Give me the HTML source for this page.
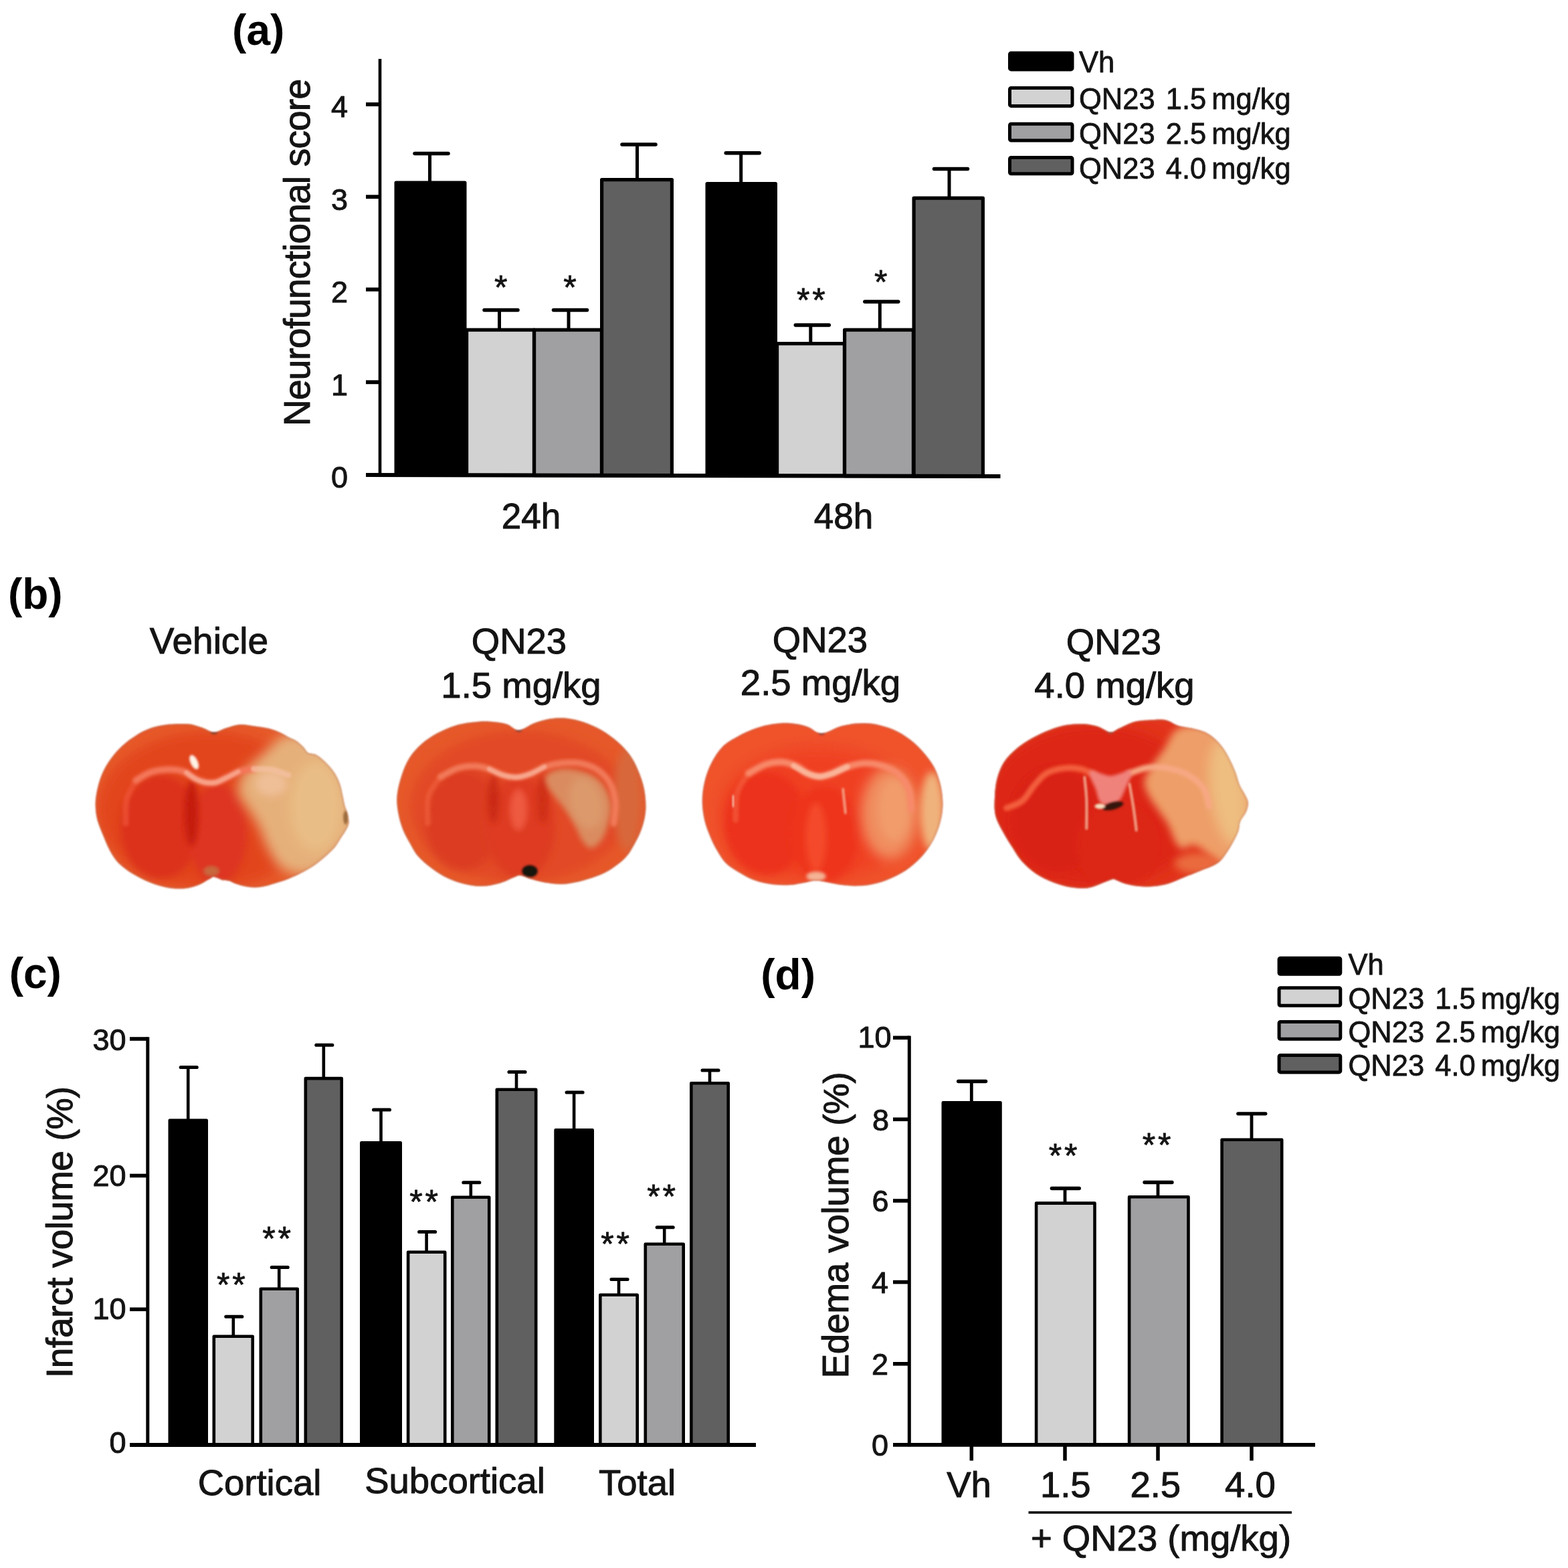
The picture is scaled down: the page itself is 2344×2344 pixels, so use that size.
<!DOCTYPE html>
<html lang="en">
<head>
<meta charset="utf-8">
<title>QN23 neuroprotection figure</title>
<style>
html, body { margin: 0; padding: 0; background: #ffffff; }
body { width: 2344px; height: 2344px; overflow: hidden; font-family: 'Liberation Sans', sans-serif; }
svg { display: block; font-family: 'Liberation Sans', sans-serif; }
</style>
</head>
<body>
<svg width="2344" height="2344" viewBox="0 0 2344 2344">
<rect x="0" y="0" width="2344" height="2344" fill="#ffffff"/>
<defs>
<filter id="bl1" x="-50%" y="-50%" width="200%" height="200%"><feGaussianBlur stdDeviation="1.3"/></filter>
<filter id="bl2" x="-50%" y="-50%" width="200%" height="200%"><feGaussianBlur stdDeviation="1.2"/></filter>
<filter id="bl3" x="-50%" y="-50%" width="200%" height="200%"><feGaussianBlur stdDeviation="2.0"/></filter>
<filter id="bl6" x="-50%" y="-50%" width="200%" height="200%"><feGaussianBlur stdDeviation="4.0"/></filter>
<filter id="bl8" x="-50%" y="-50%" width="200%" height="200%"><feGaussianBlur stdDeviation="6.0"/></filter>
<filter id="bl10" x="-50%" y="-50%" width="200%" height="200%"><feGaussianBlur stdDeviation="9.0"/></filter>
<clipPath id="bc1"><path d="M320.0 1094.5 C313.9 1094.4 308.3 1089.6 301.9 1087.5 C295.4 1085.5 289.8 1083.1 281.2 1082.3 C272.5 1081.6 259.6 1082.0 250.1 1083.1 C240.6 1084.2 232.0 1086.1 224.2 1088.8 C216.5 1091.5 210.4 1094.9 203.5 1099.2 C196.6 1103.5 189.3 1108.7 182.8 1114.7 C176.3 1120.7 169.9 1128.1 164.7 1135.4 C159.5 1142.7 155.1 1150.5 151.8 1158.7 C148.4 1166.9 146.0 1176.8 144.5 1184.6 C143.0 1192.3 142.5 1198.4 142.7 1205.3 C142.9 1212.2 143.6 1218.7 145.5 1226.0 C147.5 1233.3 151.2 1241.5 154.3 1249.3 C157.5 1257.0 160.8 1265.7 164.7 1272.6 C168.6 1279.5 172.0 1285.1 177.6 1290.7 C183.2 1296.3 190.6 1301.5 198.3 1306.2 C206.1 1311.0 215.6 1315.7 224.2 1319.2 C232.9 1322.6 241.5 1325.4 250.1 1326.9 C258.7 1328.4 268.2 1328.9 276.0 1328.2 C283.7 1327.6 290.6 1325.3 296.7 1323.0 C302.7 1320.7 308.3 1316.5 312.2 1314.5 C316.1 1312.5 316.5 1310.7 320.0 1310.9 C323.4 1311.0 329.3 1314.6 332.9 1315.5 C336.5 1316.5 338.6 1315.7 341.7 1316.6 C344.9 1317.5 347.7 1319.5 351.8 1321.0 C355.9 1322.4 361.5 1324.2 366.3 1325.1 C371.1 1326.1 376.0 1326.7 380.8 1326.7 C385.6 1326.7 390.5 1326.1 395.3 1325.1 C400.1 1324.2 405.0 1322.4 409.8 1321.0 C414.6 1319.5 419.4 1318.3 424.3 1316.6 C429.1 1314.8 433.9 1312.8 438.8 1310.6 C443.6 1308.4 448.7 1305.8 453.3 1303.4 C457.8 1300.9 462.1 1298.7 466.2 1296.1 C470.3 1293.5 474.0 1290.7 477.8 1287.6 C481.7 1284.5 485.6 1281.1 489.5 1277.5 C493.4 1273.9 497.8 1270.0 501.1 1265.8 C504.5 1261.7 507.0 1256.7 509.7 1252.6 C512.3 1248.5 515.0 1244.9 516.9 1241.3 C518.9 1237.6 520.9 1235.0 521.3 1230.9 C521.8 1226.8 520.7 1220.7 519.8 1216.4 C518.8 1212.1 516.8 1209.3 515.6 1205.0 C514.4 1200.7 513.7 1195.9 512.5 1190.5 C511.3 1185.2 510.3 1178.5 508.4 1172.9 C506.5 1167.4 503.8 1161.7 501.1 1157.1 C498.5 1152.6 495.5 1149.1 492.3 1145.5 C489.2 1141.9 485.6 1138.3 482.2 1135.4 C478.9 1132.5 475.8 1129.8 472.2 1128.2 C468.5 1126.5 463.7 1127.3 460.5 1125.3 C457.4 1123.4 456.2 1119.4 453.3 1116.5 C450.4 1113.6 446.8 1110.1 443.2 1107.7 C439.5 1105.3 435.4 1104.0 431.5 1102.0 C427.6 1100.0 424.7 1097.7 419.9 1095.5 C415.0 1093.4 409.0 1090.8 402.5 1089.1 C396.0 1087.4 388.0 1086.4 380.8 1085.5 C373.6 1084.5 366.2 1082.7 359.1 1083.1 C351.9 1083.6 344.6 1086.4 338.1 1088.3 C331.6 1090.2 326.0 1094.6 320.0 1094.5 Z"/></clipPath>
<clipPath id="bc2"><path d="M775.7 1091.4 C768.8 1091.6 764.5 1084.5 757.0 1082.3 C749.6 1080.2 739.8 1078.9 731.2 1078.5 C722.5 1078.0 713.9 1078.7 705.3 1079.8 C696.7 1080.8 688.0 1082.2 679.4 1084.9 C670.8 1087.7 661.7 1091.5 653.5 1096.1 C645.3 1100.6 637.1 1106.0 630.2 1112.1 C623.3 1118.2 617.1 1125.1 612.1 1132.8 C607.2 1140.6 603.6 1149.2 600.5 1158.7 C597.4 1168.2 594.3 1180.3 593.5 1189.8 C592.6 1199.2 593.9 1207.4 595.3 1215.6 C596.7 1223.8 599.0 1231.6 601.8 1238.9 C604.6 1246.3 608.2 1252.7 612.1 1259.6 C616.0 1266.5 619.4 1273.9 625.1 1280.3 C630.7 1286.8 638.4 1293.1 645.8 1298.4 C653.1 1303.8 660.9 1308.8 669.0 1312.7 C677.2 1316.6 686.3 1319.7 694.9 1321.7 C703.6 1323.8 712.2 1325.1 720.8 1324.8 C729.4 1324.6 738.9 1322.6 746.7 1320.4 C754.5 1318.3 762.2 1313.8 767.4 1311.9 C772.6 1310.0 773.4 1308.5 777.7 1308.8 C782.1 1309.1 787.2 1312.2 793.3 1314.0 C799.3 1315.7 806.2 1317.9 814.0 1319.2 C821.7 1320.4 831.2 1322.0 839.9 1321.7 C848.5 1321.5 857.1 1319.8 865.7 1317.9 C874.4 1315.9 883.4 1313.3 891.6 1310.1 C899.8 1306.9 907.6 1303.2 914.9 1298.4 C922.2 1293.7 929.8 1288.1 935.6 1281.6 C941.4 1275.2 945.7 1267.2 949.8 1259.6 C953.9 1252.1 957.6 1244.5 960.2 1236.3 C962.8 1228.1 964.9 1219.9 965.4 1210.5 C965.8 1201.0 965.0 1189.3 963.0 1179.4 C961.1 1169.5 957.4 1159.6 953.7 1150.9 C950.0 1142.3 946.0 1134.8 940.8 1127.6 C935.6 1120.5 929.6 1114.3 922.7 1108.2 C915.8 1102.2 907.6 1096.2 899.4 1091.4 C891.2 1086.7 882.1 1082.7 873.5 1079.8 C864.9 1076.8 856.2 1074.7 847.6 1073.8 C839.0 1072.9 829.9 1073.4 821.7 1074.6 C813.5 1075.8 806.1 1078.3 798.4 1081.1 C790.8 1083.9 782.6 1091.2 775.7 1091.4 Z"/></clipPath>
<clipPath id="bc3"><path d="M1228.3 1096.1 C1219.6 1096.3 1214.9 1088.7 1207.0 1086.2 C1199.2 1083.7 1189.8 1081.7 1181.2 1081.1 C1172.5 1080.4 1163.9 1081.1 1155.3 1082.3 C1146.7 1083.6 1138.0 1085.8 1129.4 1088.8 C1120.8 1091.8 1111.7 1095.9 1103.5 1100.5 C1095.3 1105.0 1086.9 1109.3 1080.2 1116.0 C1073.5 1122.7 1067.9 1131.7 1063.4 1140.6 C1058.9 1149.4 1055.3 1159.6 1053.1 1169.0 C1050.8 1178.5 1049.7 1188.0 1049.7 1197.5 C1049.7 1207.0 1051.0 1216.9 1053.1 1226.0 C1055.1 1235.0 1058.9 1244.1 1062.1 1251.9 C1065.3 1259.6 1068.6 1266.1 1072.5 1272.6 C1076.3 1279.0 1079.8 1285.3 1085.4 1290.7 C1091.0 1296.1 1098.8 1300.6 1106.1 1304.9 C1113.4 1309.2 1121.2 1313.7 1129.4 1316.6 C1137.6 1319.5 1146.7 1321.2 1155.3 1322.3 C1163.9 1323.3 1173.0 1323.6 1181.2 1323.0 C1189.4 1322.5 1198.0 1320.2 1204.5 1319.2 C1210.9 1318.1 1214.4 1316.6 1220.0 1316.6 C1225.6 1316.6 1231.6 1318.1 1238.1 1319.2 C1244.6 1320.2 1251.0 1322.2 1258.8 1323.0 C1266.6 1323.9 1276.1 1324.8 1284.7 1324.3 C1293.3 1323.9 1301.9 1322.7 1310.6 1320.4 C1319.2 1318.2 1328.2 1314.8 1336.4 1310.9 C1344.6 1307.0 1352.4 1302.7 1359.7 1297.2 C1367.1 1291.6 1374.4 1284.9 1380.4 1277.7 C1386.5 1270.6 1391.7 1262.6 1396.0 1254.5 C1400.2 1246.3 1403.6 1237.2 1405.8 1228.6 C1408.0 1219.9 1409.3 1211.7 1409.4 1202.7 C1409.5 1193.6 1408.3 1183.3 1406.3 1174.2 C1404.3 1165.2 1401.1 1156.1 1397.3 1148.3 C1393.4 1140.6 1388.4 1134.2 1383.0 1127.6 C1377.6 1121.1 1371.8 1114.7 1364.9 1109.0 C1358.0 1103.3 1349.8 1097.6 1341.6 1093.5 C1333.4 1089.3 1324.4 1086.2 1315.7 1084.2 C1307.1 1082.1 1299.3 1080.9 1289.9 1081.1 C1280.4 1081.2 1269.1 1082.4 1258.8 1084.9 C1248.5 1087.4 1236.9 1095.9 1228.3 1096.1 Z"/></clipPath>
<clipPath id="bc4"><path d="M1660.0 1094.5 C1654.8 1094.1 1648.3 1088.3 1641.9 1086.2 C1635.4 1084.2 1628.9 1082.8 1621.2 1082.3 C1613.4 1081.9 1603.9 1082.2 1595.3 1083.6 C1586.7 1085.1 1578.0 1087.7 1569.4 1090.9 C1560.8 1094.1 1551.7 1098.4 1543.5 1103.1 C1535.3 1107.7 1527.3 1112.5 1520.2 1118.6 C1513.1 1124.6 1505.8 1131.7 1500.8 1139.3 C1495.9 1146.8 1492.8 1155.5 1490.5 1163.9 C1488.2 1172.3 1487.5 1180.7 1487.1 1189.8 C1486.7 1198.8 1485.8 1209.2 1487.9 1218.2 C1489.9 1227.3 1495.2 1235.9 1499.5 1244.1 C1503.8 1252.3 1509.0 1260.1 1513.8 1267.4 C1518.5 1274.7 1522.2 1281.6 1528.0 1288.1 C1533.8 1294.6 1540.9 1301.0 1548.7 1306.2 C1556.5 1311.4 1565.9 1315.8 1574.6 1319.2 C1583.2 1322.5 1591.8 1325.0 1600.5 1326.4 C1609.1 1327.8 1618.6 1328.4 1626.3 1327.4 C1634.1 1326.4 1641.0 1322.6 1647.0 1320.4 C1653.1 1318.3 1659.2 1315.4 1662.6 1314.5 C1665.9 1313.6 1664.0 1313.9 1667.2 1315.0 C1670.4 1316.1 1675.7 1319.3 1681.7 1321.0 C1687.8 1322.6 1696.2 1324.4 1703.5 1325.1 C1710.7 1325.8 1718.0 1325.8 1725.2 1325.1 C1732.4 1324.4 1739.7 1323.1 1746.9 1321.0 C1754.2 1318.8 1762.6 1314.6 1768.7 1312.2 C1774.7 1309.7 1778.3 1308.4 1783.2 1306.5 C1788.0 1304.5 1792.8 1302.5 1797.7 1300.5 C1802.5 1298.6 1807.8 1297.0 1812.2 1294.8 C1816.5 1292.7 1820.2 1291.0 1823.8 1287.6 C1827.4 1284.2 1830.7 1279.0 1833.9 1274.4 C1837.0 1269.8 1839.8 1265.2 1842.7 1259.9 C1845.6 1254.6 1849.3 1247.9 1851.2 1242.5 C1853.1 1237.2 1852.1 1232.9 1854.1 1228.1 C1856.0 1223.2 1860.9 1218.4 1862.9 1213.6 C1864.8 1208.7 1866.2 1203.6 1865.7 1199.1 C1865.3 1194.5 1862.2 1190.5 1860.0 1186.1 C1857.9 1181.8 1855.0 1178.2 1852.8 1172.9 C1850.6 1167.6 1849.2 1160.6 1846.8 1154.3 C1844.4 1148.0 1841.4 1141.4 1838.3 1135.4 C1835.2 1129.4 1831.8 1123.2 1828.2 1118.1 C1824.6 1113.0 1820.9 1108.7 1816.6 1104.9 C1812.2 1101.0 1807.6 1097.4 1802.1 1094.8 C1796.5 1092.1 1789.9 1090.8 1783.2 1089.1 C1776.4 1087.4 1767.9 1086.7 1761.4 1084.7 C1754.9 1082.6 1750.1 1078.1 1744.1 1076.7 C1738.1 1075.2 1733.2 1075.5 1725.2 1075.9 C1717.2 1076.2 1704.9 1076.6 1696.2 1078.7 C1687.5 1080.9 1679.0 1086.2 1672.9 1088.8 C1666.9 1091.5 1665.2 1094.9 1660.0 1094.5 Z"/></clipPath>
</defs>
<text x="386.2" y="66.5" font-size="64" text-anchor="middle" font-weight="bold" fill="#000">(a)</text>
<line x1="568.0" y1="88.0" x2="568.0" y2="712.5" stroke="#000" stroke-width="4.6" stroke-linecap="butt"/>
<text x="520.0" y="729.1" font-size="45" text-anchor="end" font-weight="normal" fill="#141414" stroke="#141414" stroke-width="1.0" stroke-linejoin="round" >0</text>
<line x1="547.0" y1="571.3" x2="568.0" y2="571.3" stroke="#000" stroke-width="5.8" stroke-linecap="butt"/>
<text x="520.0" y="591.1" font-size="45" text-anchor="end" font-weight="normal" fill="#141414" stroke="#141414" stroke-width="1.0" stroke-linejoin="round" >1</text>
<line x1="547.0" y1="432.7" x2="568.0" y2="432.7" stroke="#000" stroke-width="5.8" stroke-linecap="butt"/>
<text x="520.0" y="452.4" font-size="45" text-anchor="end" font-weight="normal" fill="#141414" stroke="#141414" stroke-width="1.0" stroke-linejoin="round" >2</text>
<line x1="547.0" y1="294.2" x2="568.0" y2="294.2" stroke="#000" stroke-width="5.8" stroke-linecap="butt"/>
<text x="520.0" y="313.6" font-size="45" text-anchor="end" font-weight="normal" fill="#141414" stroke="#141414" stroke-width="1.0" stroke-linejoin="round" >3</text>
<line x1="547.0" y1="156.0" x2="568.0" y2="156.0" stroke="#000" stroke-width="5.8" stroke-linecap="butt"/>
<text x="520.0" y="174.7" font-size="45" text-anchor="end" font-weight="normal" fill="#141414" stroke="#141414" stroke-width="1.0" stroke-linejoin="round" >4</text>
<text transform="translate(462.5 377.5) rotate(-90)" font-size="55" text-anchor="middle" fill="#141414" stroke="#141414" stroke-width="1.0" stroke-linejoin="round" textLength="519" lengthAdjust="spacing">Neurofunctional score</text>
<line x1="642.5" y1="229.5" x2="642.5" y2="272.5" stroke="#000" stroke-width="5.0" stroke-linecap="butt"/>
<line x1="620.0" y1="229.5" x2="670.0" y2="229.5" stroke="#000" stroke-width="5.5" stroke-linecap="round"/>
<line x1="746.5" y1="463.5" x2="746.5" y2="492.5" stroke="#000" stroke-width="5.0" stroke-linecap="butt"/>
<line x1="724.0" y1="463.5" x2="774.0" y2="463.5" stroke="#000" stroke-width="5.5" stroke-linecap="round"/>
<line x1="850.0" y1="463.5" x2="850.0" y2="492.5" stroke="#000" stroke-width="5.0" stroke-linecap="butt"/>
<line x1="827.5" y1="463.5" x2="877.5" y2="463.5" stroke="#000" stroke-width="5.5" stroke-linecap="round"/>
<line x1="952.5" y1="216.0" x2="952.5" y2="268.0" stroke="#000" stroke-width="5.0" stroke-linecap="butt"/>
<line x1="930.0" y1="216.0" x2="980.0" y2="216.0" stroke="#000" stroke-width="5.5" stroke-linecap="round"/>
<line x1="1107.7" y1="228.7" x2="1107.7" y2="274.0" stroke="#000" stroke-width="5.0" stroke-linecap="butt"/>
<line x1="1085.2" y1="228.7" x2="1135.2" y2="228.7" stroke="#000" stroke-width="5.5" stroke-linecap="round"/>
<line x1="1211.8" y1="486.0" x2="1211.8" y2="513.0" stroke="#000" stroke-width="5.0" stroke-linecap="butt"/>
<line x1="1189.3" y1="486.0" x2="1239.3" y2="486.0" stroke="#000" stroke-width="5.5" stroke-linecap="round"/>
<line x1="1315.3" y1="451.0" x2="1315.3" y2="492.5" stroke="#000" stroke-width="5.0" stroke-linecap="butt"/>
<line x1="1292.8" y1="451.0" x2="1342.8" y2="451.0" stroke="#000" stroke-width="5.5" stroke-linecap="round"/>
<line x1="1419.0" y1="252.5" x2="1419.0" y2="295.5" stroke="#000" stroke-width="5.0" stroke-linecap="butt"/>
<line x1="1396.5" y1="252.5" x2="1446.5" y2="252.5" stroke="#000" stroke-width="5.5" stroke-linecap="round"/>
<rect x="592.1" y="273.1" width="102.8" height="437.1" fill="#000000" stroke="#000" stroke-width="5.2" stroke-linejoin="round"/>
<rect x="697.6" y="493.1" width="100.8" height="217.3" fill="#d2d2d2" stroke="#000" stroke-width="5.2" stroke-linejoin="round"/>
<rect x="798.6" y="493.1" width="100.8" height="217.5" fill="#a0a0a3" stroke="#000" stroke-width="5.2" stroke-linejoin="round"/>
<rect x="899.6" y="268.6" width="104.8" height="442.3" fill="#606060" stroke="#000" stroke-width="5.2" stroke-linejoin="round"/>
<rect x="1057.1" y="274.6" width="102.3" height="436.6" fill="#000000" stroke="#000" stroke-width="5.2" stroke-linejoin="round"/>
<rect x="1161.6" y="513.6" width="100.8" height="197.8" fill="#d2d2d2" stroke="#000" stroke-width="5.2" stroke-linejoin="round"/>
<rect x="1262.6" y="493.1" width="102.8" height="218.5" fill="#a0a0a3" stroke="#000" stroke-width="5.2" stroke-linejoin="round"/>
<rect x="1366.1" y="296.1" width="103.3" height="415.7" fill="#606060" stroke="#000" stroke-width="5.2" stroke-linejoin="round"/>
<line x1="547.0" y1="710.0" x2="1495.5" y2="712.0" stroke="#000" stroke-width="6"/>
<text x="748.8" y="447.4" font-size="50" text-anchor="middle" font-weight="normal" fill="#141414" stroke="#141414" stroke-width="0.8" stroke-linejoin="round" >*</text>
<text x="852.0" y="447.4" font-size="50" text-anchor="middle" font-weight="normal" fill="#141414" stroke="#141414" stroke-width="0.8" stroke-linejoin="round" >*</text>
<text x="1214.2" y="466.0" font-size="50" text-anchor="middle" font-weight="normal" fill="#141414" stroke="#141414" stroke-width="0.8" stroke-linejoin="round" letter-spacing="3.8">**</text>
<text x="1316.7" y="438.6" font-size="50" text-anchor="middle" font-weight="normal" fill="#141414" stroke="#141414" stroke-width="0.8" stroke-linejoin="round" >*</text>
<text x="794.0" y="789.5" font-size="53" text-anchor="middle" font-weight="normal" fill="#141414" stroke="#141414" stroke-width="1.0" stroke-linejoin="round" >24h</text>
<text x="1261.0" y="789.5" font-size="53" text-anchor="middle" font-weight="normal" fill="#141414" stroke="#141414" stroke-width="1.0" stroke-linejoin="round" >48h</text>
<rect x="1509.5" y="79.2" width="93.5" height="24.7" rx="2" fill="#000000" stroke="#000" stroke-width="5.0" stroke-linejoin="round"/>
<text x="1613.0" y="108.2" font-size="43.5" text-anchor="start" font-weight="normal" fill="#141414" stroke="#141414" stroke-width="0.8" stroke-linejoin="round" >Vh</text>
<rect x="1509.5" y="131.4" width="93.5" height="27.0" rx="2" fill="#d2d2d2" stroke="#000" stroke-width="5.0" stroke-linejoin="round"/>
<text x="1613.0" y="162.6" font-size="43.5" text-anchor="start" font-weight="normal" fill="#141414" stroke="#141414" stroke-width="0.8" stroke-linejoin="round" >QN23 <tspan dx="4">1.5</tspan> <tspan dx="-4">mg/kg</tspan></text>
<rect x="1509.5" y="185.3" width="93.5" height="24.7" rx="2" fill="#a0a0a3" stroke="#000" stroke-width="5.0" stroke-linejoin="round"/>
<text x="1613.0" y="214.9" font-size="43.5" text-anchor="start" font-weight="normal" fill="#141414" stroke="#141414" stroke-width="0.8" stroke-linejoin="round" >QN23 <tspan dx="4">2.5</tspan> <tspan dx="-4">mg/kg</tspan></text>
<rect x="1509.5" y="235.5" width="93.5" height="24.3" rx="2" fill="#606060" stroke="#000" stroke-width="5.0" stroke-linejoin="round"/>
<text x="1613.0" y="266.6" font-size="43.5" text-anchor="start" font-weight="normal" fill="#141414" stroke="#141414" stroke-width="0.8" stroke-linejoin="round" >QN23 <tspan dx="4">4.0</tspan> <tspan dx="-4">mg/kg</tspan></text>
<text x="52.8" y="909.5" font-size="64" text-anchor="middle" font-weight="bold" fill="#000">(b)</text>
<text x="312.5" y="976.5" font-size="55" text-anchor="middle" font-weight="normal" fill="#141414" stroke="#141414" stroke-width="1.0" stroke-linejoin="round" >Vehicle</text>
<text x="776.0" y="977.0" font-size="54.5" text-anchor="middle" font-weight="normal" fill="#141414" stroke="#141414" stroke-width="1.0" stroke-linejoin="round" >QN23</text>
<text x="779.0" y="1042.5" font-size="54.5" text-anchor="middle" font-weight="normal" fill="#141414" stroke="#141414" stroke-width="1.0" stroke-linejoin="round" >1.5 mg/kg</text>
<text x="1226.0" y="974.5" font-size="54.5" text-anchor="middle" font-weight="normal" fill="#141414" stroke="#141414" stroke-width="1.0" stroke-linejoin="round" >QN23</text>
<text x="1226.5" y="1038.5" font-size="54.5" text-anchor="middle" font-weight="normal" fill="#141414" stroke="#141414" stroke-width="1.0" stroke-linejoin="round" >2.5 mg/kg</text>
<text x="1665.0" y="977.5" font-size="54.5" text-anchor="middle" font-weight="normal" fill="#141414" stroke="#141414" stroke-width="1.0" stroke-linejoin="round" >QN23</text>
<text x="1666.0" y="1042.5" font-size="54.5" text-anchor="middle" font-weight="normal" fill="#141414" stroke="#141414" stroke-width="1.0" stroke-linejoin="round" >4.0 mg/kg</text>
<g filter="url(#bl1)"><g clip-path="url(#bc1)">
<rect x="132.7" y="1072.3" width="398.6" height="265.9" fill="#e6592a"/>
<ellipse cx="312.2" cy="1210.5" rx="165.6" ry="116.5" fill="#e2441f" opacity="1.0" filter="url(#bl10)" transform="rotate(0 312.2 1210.5)"/>
<ellipse cx="239.8" cy="1236.3" rx="59.5" ry="77.6" fill="#dc301a" opacity="1.0" filter="url(#bl8)" transform="rotate(0 239.8 1236.3)"/>
<ellipse cx="325.2" cy="1246.7" rx="44.0" ry="75.1" fill="#de3420" opacity="1.0" filter="url(#bl8)" transform="rotate(0 325.2 1246.7)"/>
<ellipse cx="286.3" cy="1215.6" rx="10.4" ry="49.2" fill="#c41c0e" opacity="1.0" filter="url(#bl6)" transform="rotate(0 286.3 1215.6)"/>
<path d="M426.1 1099.2 C414.4 1103.5 402.8 1118.2 392.4 1127.6 C382.1 1137.1 370.0 1146.6 364.0 1156.1 C357.9 1165.6 354.9 1175.5 356.2 1184.6 C357.5 1193.6 366.6 1201.8 371.7 1210.5 C376.9 1219.1 382.5 1226.8 387.3 1236.3 C392.0 1245.8 394.2 1256.8 400.2 1267.4 C406.2 1278.0 412.3 1293.3 423.5 1299.7 C434.7 1306.2 454.1 1309.9 467.5 1306.2 C480.9 1302.5 493.4 1286.8 503.7 1277.7 C514.1 1268.7 523.6 1261.4 529.6 1251.9 C535.6 1242.4 539.1 1232.0 540.0 1220.8 C540.8 1209.6 538.2 1196.7 534.8 1184.6 C531.3 1172.5 526.2 1159.1 519.3 1148.3 C512.4 1137.6 502.9 1127.6 493.4 1119.9 C483.9 1112.1 473.5 1105.2 462.3 1101.8 C451.1 1098.3 437.7 1094.9 426.1 1099.2 Z" fill="#e6b07a" opacity="1.0" filter="url(#bl10)"/>
<ellipse cx="472.7" cy="1205.3" rx="38.8" ry="67.3" fill="#e9be86" opacity="1.0" filter="url(#bl10)" transform="rotate(0 472.7 1205.3)"/>
<ellipse cx="405.4" cy="1171.6" rx="23.3" ry="18.1" fill="#efbf98" opacity="1.0" filter="url(#bl8)" transform="rotate(0 405.4 1171.6)"/>
<path d="M188.0 1231.2 C188.2 1225.1 186.7 1205.7 189.3 1194.9 C191.9 1184.1 201.1 1171.2 203.5 1166.5" fill="none" stroke="#f0573a" stroke-width="8.8" stroke-linecap="round" stroke-linejoin="round" opacity="0.7" filter="url(#bl3)"/>
<path d="M203.5 1166.5 C207.0 1164.5 216.5 1157.5 224.2 1154.8 C232.0 1152.1 241.9 1150.7 250.1 1150.4 C258.3 1150.1 266.5 1150.8 273.4 1153.0 C280.3 1155.2 285.9 1161.1 291.5 1163.9 C297.1 1166.6 301.9 1168.6 307.0 1169.6 C312.2 1170.5 317.4 1170.7 322.6 1169.6 C327.7 1168.4 332.1 1165.6 338.1 1162.8 C344.1 1160.1 351.9 1155.2 358.8 1153.0 C365.7 1150.8 376.1 1150.2 379.5 1149.6" fill="none" stroke="#f4775a" stroke-width="9.8" stroke-linecap="round" stroke-linejoin="round" opacity="1.0" filter="url(#bl3)"/>
<path d="M278.6 1154.8 C280.7 1156.3 286.8 1161.4 291.5 1163.9 C296.3 1166.3 301.9 1168.6 307.0 1169.6 C312.2 1170.5 317.4 1170.7 322.6 1169.6 C327.7 1168.4 332.5 1165.5 338.1 1162.8 C343.7 1160.2 353.2 1155.1 356.2 1153.5" fill="none" stroke="#f8a288" stroke-width="6.7" stroke-linecap="round" stroke-linejoin="round" opacity="1.0" filter="url(#bl2)"/>
<path d="M379.5 1149.6 C383.8 1149.8 396.8 1148.9 405.4 1150.4 C414.0 1151.9 426.9 1157.3 431.3 1158.7" fill="none" stroke="#f4c0a0" stroke-width="8.8" stroke-linecap="round" stroke-linejoin="round" opacity="0.8" filter="url(#bl2)"/>
<ellipse cx="290.2" cy="1139.3" rx="5.2" ry="11.4" fill="#fff3e6" opacity="1.0" filter="url(#bl2)" transform="rotate(-25 290.2 1139.3)"/>
<ellipse cx="320.0" cy="1093.5" rx="5.2" ry="4.1" fill="#6e3a2c" opacity="1.0" filter="url(#bl2)" transform="rotate(0 320.0 1093.5)"/>
<ellipse cx="316.1" cy="1302.3" rx="11.9" ry="7.8" fill="#c8683e" opacity="1.0" filter="url(#bl3)" transform="rotate(0 316.1 1302.3)"/>
<ellipse cx="516.7" cy="1222.1" rx="3.6" ry="10.4" fill="#9a6a3a" opacity="1.0" filter="url(#bl2)" transform="rotate(0 516.7 1222.1)"/>
<path d="M320.0 1094.5 C313.9 1094.4 308.3 1089.6 301.9 1087.5 C295.4 1085.5 289.8 1083.1 281.2 1082.3 C272.5 1081.6 259.6 1082.0 250.1 1083.1 C240.6 1084.2 232.0 1086.1 224.2 1088.8 C216.5 1091.5 210.4 1094.9 203.5 1099.2 C196.6 1103.5 189.3 1108.7 182.8 1114.7 C176.3 1120.7 169.9 1128.1 164.7 1135.4 C159.5 1142.7 155.1 1150.5 151.8 1158.7 C148.4 1166.9 146.0 1176.8 144.5 1184.6 C143.0 1192.3 142.5 1198.4 142.7 1205.3 C142.9 1212.2 143.6 1218.7 145.5 1226.0 C147.5 1233.3 151.2 1241.5 154.3 1249.3 C157.5 1257.0 160.8 1265.7 164.7 1272.6 C168.6 1279.5 172.0 1285.1 177.6 1290.7 C183.2 1296.3 190.6 1301.5 198.3 1306.2 C206.1 1311.0 215.6 1315.7 224.2 1319.2 C232.9 1322.6 241.5 1325.4 250.1 1326.9 C258.7 1328.4 268.2 1328.9 276.0 1328.2 C283.7 1327.6 290.6 1325.3 296.7 1323.0 C302.7 1320.7 308.3 1316.5 312.2 1314.5 C316.1 1312.5 316.5 1310.7 320.0 1310.9 C323.4 1311.0 329.3 1314.6 332.9 1315.5 C336.5 1316.5 338.6 1315.7 341.7 1316.6 C344.9 1317.5 347.7 1319.5 351.8 1321.0 C355.9 1322.4 361.5 1324.2 366.3 1325.1 C371.1 1326.1 376.0 1326.7 380.8 1326.7 C385.6 1326.7 390.5 1326.1 395.3 1325.1 C400.1 1324.2 405.0 1322.4 409.8 1321.0 C414.6 1319.5 419.4 1318.3 424.3 1316.6 C429.1 1314.8 433.9 1312.8 438.8 1310.6 C443.6 1308.4 448.7 1305.8 453.3 1303.4 C457.8 1300.9 462.1 1298.7 466.2 1296.1 C470.3 1293.5 474.0 1290.7 477.8 1287.6 C481.7 1284.5 485.6 1281.1 489.5 1277.5 C493.4 1273.9 497.8 1270.0 501.1 1265.8 C504.5 1261.7 507.0 1256.7 509.7 1252.6 C512.3 1248.5 515.0 1244.9 516.9 1241.3 C518.9 1237.6 520.9 1235.0 521.3 1230.9 C521.8 1226.8 520.7 1220.7 519.8 1216.4 C518.8 1212.1 516.8 1209.3 515.6 1205.0 C514.4 1200.7 513.7 1195.9 512.5 1190.5 C511.3 1185.2 510.3 1178.5 508.4 1172.9 C506.5 1167.4 503.8 1161.7 501.1 1157.1 C498.5 1152.6 495.5 1149.1 492.3 1145.5 C489.2 1141.9 485.6 1138.3 482.2 1135.4 C478.9 1132.5 475.8 1129.8 472.2 1128.2 C468.5 1126.5 463.7 1127.3 460.5 1125.3 C457.4 1123.4 456.2 1119.4 453.3 1116.5 C450.4 1113.6 446.8 1110.1 443.2 1107.7 C439.5 1105.3 435.4 1104.0 431.5 1102.0 C427.6 1100.0 424.7 1097.7 419.9 1095.5 C415.0 1093.4 409.0 1090.8 402.5 1089.1 C396.0 1087.4 388.0 1086.4 380.8 1085.5 C373.6 1084.5 366.2 1082.7 359.1 1083.1 C351.9 1083.6 344.6 1086.4 338.1 1088.3 C331.6 1090.2 326.0 1094.6 320.0 1094.5 Z" fill="none" stroke="#b8735a" stroke-width="2.1" opacity="0.7" filter="url(#bl2)"/>
</g></g>
<g filter="url(#bl1)"><g clip-path="url(#bc2)">
<rect x="583.5" y="1063.8" width="391.9" height="271.0" fill="#e6592a"/>
<ellipse cx="777.7" cy="1205.3" rx="165.6" ry="113.9" fill="#e24a26" opacity="1.0" filter="url(#bl10)" transform="rotate(0 777.7 1205.3)"/>
<ellipse cx="692.3" cy="1226.0" rx="56.9" ry="75.1" fill="#dc3c24" opacity="1.0" filter="url(#bl8)" transform="rotate(0 692.3 1226.0)"/>
<ellipse cx="777.7" cy="1236.3" rx="51.8" ry="75.1" fill="#de3a22" opacity="1.0" filter="url(#bl8)" transform="rotate(0 777.7 1236.3)"/>
<ellipse cx="737.6" cy="1194.9" rx="8.8" ry="36.2" fill="#cb2b17" opacity="1.0" filter="url(#bl6)" transform="rotate(0 737.6 1194.9)"/>
<ellipse cx="811.4" cy="1194.9" rx="8.8" ry="36.2" fill="#cf2f19" opacity="1.0" filter="url(#bl6)" transform="rotate(0 811.4 1194.9)"/>
<ellipse cx="775.2" cy="1210.5" rx="12.9" ry="31.1" fill="#ee5a40" opacity="1.0" filter="url(#bl6)" transform="rotate(0 775.2 1210.5)"/>
<ellipse cx="938.2" cy="1194.9" rx="20.7" ry="77.6" fill="#d8683a" opacity="1.0" filter="url(#bl8)" transform="rotate(0 938.2 1194.9)"/>
<path d="M817.6 1158.4 C821.2 1155.1 829.8 1150.8 838.0 1149.9 C846.3 1148.9 857.9 1150.3 867.0 1152.7 C876.2 1155.2 886.2 1159.3 892.9 1164.4 C899.6 1169.5 904.0 1176.5 907.4 1183.3 C910.8 1190.1 912.8 1197.8 913.4 1205.0 C913.9 1212.3 912.2 1219.5 910.5 1226.8 C908.8 1234.0 906.2 1242.5 903.3 1248.5 C900.3 1254.5 896.5 1259.8 892.9 1263.0 C889.3 1266.1 885.4 1268.6 881.5 1267.4 C877.7 1266.2 873.3 1260.8 869.9 1255.7 C866.5 1250.7 864.5 1243.4 861.1 1236.9 C857.7 1230.3 853.8 1222.9 849.4 1216.4 C845.1 1209.9 839.3 1203.3 834.9 1197.8 C830.6 1192.3 826.7 1187.9 823.6 1183.3 C820.4 1178.7 817.3 1174.2 816.3 1170.1 C815.3 1165.9 814.0 1161.8 817.6 1158.4 Z" fill="#da8c60" opacity="1.0" filter="url(#bl6)"/>
<ellipse cx="876.1" cy="1200.1" rx="23.3" ry="38.8" fill="#dc9a6c" opacity="1.0" filter="url(#bl8)" transform="rotate(-15 876.1 1200.1)"/>
<path d="M639.3 1231.2 C639.5 1224.3 637.3 1201.4 640.6 1189.8 C643.8 1178.1 655.7 1166.0 658.7 1161.3" fill="none" stroke="#f0603e" stroke-width="8.3" stroke-linecap="round" stroke-linejoin="round" opacity="0.7" filter="url(#bl3)"/>
<path d="M658.7 1161.3 C663.0 1159.1 675.9 1151.0 684.6 1148.3 C693.2 1145.7 702.7 1145.0 710.5 1145.2 C718.2 1145.5 724.3 1147.4 731.2 1149.6 C738.1 1151.9 745.0 1156.7 751.9 1158.7 C758.8 1160.7 765.7 1162.1 772.6 1161.8 C779.5 1161.5 786.4 1159.2 793.3 1156.6 C800.2 1154.0 806.2 1148.9 814.0 1146.3 C821.7 1143.6 830.8 1141.4 839.9 1140.6 C848.9 1139.7 859.3 1139.3 868.3 1141.1 C877.4 1142.9 886.9 1146.4 894.2 1151.4 C901.5 1156.5 908.0 1163.5 912.3 1171.6 C916.6 1179.7 919.2 1190.2 920.1 1200.1 C920.9 1210.0 917.9 1226.0 917.5 1231.2" fill="none" stroke="#f27a5a" stroke-width="9.3" stroke-linecap="round" stroke-linejoin="round" opacity="1.0" filter="url(#bl3)"/>
<path d="M731.2 1149.6 C734.6 1151.1 745.0 1156.7 751.9 1158.7 C758.8 1160.7 765.7 1162.1 772.6 1161.8 C779.5 1161.5 786.4 1159.2 793.3 1156.6 C800.2 1154.0 810.5 1148.0 814.0 1146.3" fill="none" stroke="#f8a68c" stroke-width="6.7" stroke-linecap="round" stroke-linejoin="round" opacity="1.0" filter="url(#bl2)"/>
<ellipse cx="775.7" cy="1090.4" rx="4.7" ry="3.6" fill="#66383a" opacity="1.0" filter="url(#bl2)" transform="rotate(0 775.7 1090.4)"/>
<ellipse cx="792.0" cy="1302.3" rx="11.9" ry="9.3" fill="#141210" opacity="1.0" filter="url(#bl2)" transform="rotate(0 792.0 1302.3)"/>
<path d="M775.7 1091.4 C768.8 1091.6 764.5 1084.5 757.0 1082.3 C749.6 1080.2 739.8 1078.9 731.2 1078.5 C722.5 1078.0 713.9 1078.7 705.3 1079.8 C696.7 1080.8 688.0 1082.2 679.4 1084.9 C670.8 1087.7 661.7 1091.5 653.5 1096.1 C645.3 1100.6 637.1 1106.0 630.2 1112.1 C623.3 1118.2 617.1 1125.1 612.1 1132.8 C607.2 1140.6 603.6 1149.2 600.5 1158.7 C597.4 1168.2 594.3 1180.3 593.5 1189.8 C592.6 1199.2 593.9 1207.4 595.3 1215.6 C596.7 1223.8 599.0 1231.6 601.8 1238.9 C604.6 1246.3 608.2 1252.7 612.1 1259.6 C616.0 1266.5 619.4 1273.9 625.1 1280.3 C630.7 1286.8 638.4 1293.1 645.8 1298.4 C653.1 1303.8 660.9 1308.8 669.0 1312.7 C677.2 1316.6 686.3 1319.7 694.9 1321.7 C703.6 1323.8 712.2 1325.1 720.8 1324.8 C729.4 1324.6 738.9 1322.6 746.7 1320.4 C754.5 1318.3 762.2 1313.8 767.4 1311.9 C772.6 1310.0 773.4 1308.5 777.7 1308.8 C782.1 1309.1 787.2 1312.2 793.3 1314.0 C799.3 1315.7 806.2 1317.9 814.0 1319.2 C821.7 1320.4 831.2 1322.0 839.9 1321.7 C848.5 1321.5 857.1 1319.8 865.7 1317.9 C874.4 1315.9 883.4 1313.3 891.6 1310.1 C899.8 1306.9 907.6 1303.2 914.9 1298.4 C922.2 1293.7 929.8 1288.1 935.6 1281.6 C941.4 1275.2 945.7 1267.2 949.8 1259.6 C953.9 1252.1 957.6 1244.5 960.2 1236.3 C962.8 1228.1 964.9 1219.9 965.4 1210.5 C965.8 1201.0 965.0 1189.3 963.0 1179.4 C961.1 1169.5 957.4 1159.6 953.7 1150.9 C950.0 1142.3 946.0 1134.8 940.8 1127.6 C935.6 1120.5 929.6 1114.3 922.7 1108.2 C915.8 1102.2 907.6 1096.2 899.4 1091.4 C891.2 1086.7 882.1 1082.7 873.5 1079.8 C864.9 1076.8 856.2 1074.7 847.6 1073.8 C839.0 1072.9 829.9 1073.4 821.7 1074.6 C813.5 1075.8 806.1 1078.3 798.4 1081.1 C790.8 1083.9 782.6 1091.2 775.7 1091.4 Z" fill="none" stroke="#b8735a" stroke-width="2.1" opacity="0.7" filter="url(#bl2)"/>
</g></g>
<g filter="url(#bl1)"><g clip-path="url(#bc3)">
<rect x="1039.7" y="1071.1" width="379.7" height="263.3" fill="#f0522c"/>
<ellipse cx="1222.6" cy="1215.6" rx="144.9" ry="98.3" fill="#f03c20" opacity="0.75" filter="url(#bl10)" transform="rotate(0 1222.6 1215.6)"/>
<ellipse cx="1144.9" cy="1231.2" rx="62.1" ry="77.6" fill="#ec301a" opacity="1.0" filter="url(#bl8)" transform="rotate(0 1144.9 1231.2)"/>
<ellipse cx="1232.9" cy="1246.7" rx="51.8" ry="72.5" fill="#ee361c" opacity="1.0" filter="url(#bl8)" transform="rotate(0 1232.9 1246.7)"/>
<ellipse cx="1220.0" cy="1251.9" rx="15.5" ry="51.8" fill="#f4482a" opacity="1.0" filter="url(#bl6)" transform="rotate(0 1220.0 1251.9)"/>
<ellipse cx="1330.0" cy="1215.6" rx="42.7" ry="68.6" fill="#f08e60" opacity="1.0" filter="url(#bl10)" transform="rotate(0 1330.0 1215.6)"/>
<ellipse cx="1336.4" cy="1210.5" rx="23.3" ry="46.6" fill="#f29c6c" opacity="1.0" filter="url(#bl8)" transform="rotate(0 1336.4 1210.5)"/>
<ellipse cx="1393.4" cy="1213.0" rx="18.1" ry="59.5" fill="#f0b27c" opacity="1.0" filter="url(#bl8)" transform="rotate(0 1393.4 1213.0)"/>
<path d="M1099.6 1226.0 C1100.1 1219.1 1099.0 1196.2 1102.2 1184.6 C1105.5 1172.9 1116.2 1160.9 1119.0 1156.1" fill="none" stroke="#f4603e" stroke-width="8.3" stroke-linecap="round" stroke-linejoin="round" opacity="0.7" filter="url(#bl3)"/>
<path d="M1119.0 1156.1 C1123.4 1153.9 1136.3 1145.5 1144.9 1142.7 C1153.6 1139.8 1163.0 1138.8 1170.8 1139.3 C1178.6 1139.8 1185.5 1143.0 1191.5 1145.8 C1197.6 1148.6 1201.4 1153.6 1207.0 1156.1 C1212.6 1158.6 1219.1 1160.7 1225.2 1160.8 C1231.2 1160.9 1236.8 1158.9 1243.3 1156.6 C1249.7 1154.3 1256.2 1149.6 1264.0 1147.0 C1271.7 1144.5 1281.2 1141.7 1289.9 1141.1 C1298.5 1140.5 1307.1 1141.2 1315.7 1143.7 C1324.4 1146.2 1334.5 1150.2 1341.6 1156.1 C1348.7 1162.1 1355.0 1170.3 1358.4 1179.4 C1361.9 1188.5 1361.7 1205.3 1362.3 1210.5" fill="none" stroke="#f88a6a" stroke-width="9.8" stroke-linecap="round" stroke-linejoin="round" opacity="1.0" filter="url(#bl3)"/>
<path d="M1186.3 1144.5 C1189.8 1146.4 1200.6 1153.4 1207.0 1156.1 C1213.5 1158.8 1219.1 1160.7 1225.2 1160.8 C1231.2 1160.9 1236.4 1159.0 1243.3 1156.6 C1250.2 1154.2 1262.7 1148.0 1266.6 1146.3" fill="none" stroke="#fab498" stroke-width="7.8" stroke-linecap="round" stroke-linejoin="round" opacity="1.0" filter="url(#bl2)"/>
<ellipse cx="1228.3" cy="1095.0" rx="4.7" ry="3.6" fill="#663030" opacity="1.0" filter="url(#bl2)" transform="rotate(0 1228.3 1095.0)"/>
<ellipse cx="1220.0" cy="1310.1" rx="14.5" ry="7.2" fill="#f4b494" opacity="1.0" filter="url(#bl3)" transform="rotate(0 1220.0 1310.1)"/>
<path d="M1095.8 1189.8 C1095.8 1192.3 1096.2 1202.7 1096.3 1205.3" fill="none" stroke="#fbd8c0" stroke-width="3.1" stroke-linecap="round" stroke-linejoin="round" opacity="1.0" filter="url(#bl2)"/>
<path d="M1260.1 1179.4 C1260.7 1185.4 1263.3 1209.6 1264.0 1215.6" fill="none" stroke="#f8c0a0" stroke-width="2.6" stroke-linecap="round" stroke-linejoin="round" opacity="1.0" filter="url(#bl2)"/>
<path d="M1228.3 1096.1 C1219.6 1096.3 1214.9 1088.7 1207.0 1086.2 C1199.2 1083.7 1189.8 1081.7 1181.2 1081.1 C1172.5 1080.4 1163.9 1081.1 1155.3 1082.3 C1146.7 1083.6 1138.0 1085.8 1129.4 1088.8 C1120.8 1091.8 1111.7 1095.9 1103.5 1100.5 C1095.3 1105.0 1086.9 1109.3 1080.2 1116.0 C1073.5 1122.7 1067.9 1131.7 1063.4 1140.6 C1058.9 1149.4 1055.3 1159.6 1053.1 1169.0 C1050.8 1178.5 1049.7 1188.0 1049.7 1197.5 C1049.7 1207.0 1051.0 1216.9 1053.1 1226.0 C1055.1 1235.0 1058.9 1244.1 1062.1 1251.9 C1065.3 1259.6 1068.6 1266.1 1072.5 1272.6 C1076.3 1279.0 1079.8 1285.3 1085.4 1290.7 C1091.0 1296.1 1098.8 1300.6 1106.1 1304.9 C1113.4 1309.2 1121.2 1313.7 1129.4 1316.6 C1137.6 1319.5 1146.7 1321.2 1155.3 1322.3 C1163.9 1323.3 1173.0 1323.6 1181.2 1323.0 C1189.4 1322.5 1198.0 1320.2 1204.5 1319.2 C1210.9 1318.1 1214.4 1316.6 1220.0 1316.6 C1225.6 1316.6 1231.6 1318.1 1238.1 1319.2 C1244.6 1320.2 1251.0 1322.2 1258.8 1323.0 C1266.6 1323.9 1276.1 1324.8 1284.7 1324.3 C1293.3 1323.9 1301.9 1322.7 1310.6 1320.4 C1319.2 1318.2 1328.2 1314.8 1336.4 1310.9 C1344.6 1307.0 1352.4 1302.7 1359.7 1297.2 C1367.1 1291.6 1374.4 1284.9 1380.4 1277.7 C1386.5 1270.6 1391.7 1262.6 1396.0 1254.5 C1400.2 1246.3 1403.6 1237.2 1405.8 1228.6 C1408.0 1219.9 1409.3 1211.7 1409.4 1202.7 C1409.5 1193.6 1408.3 1183.3 1406.3 1174.2 C1404.3 1165.2 1401.1 1156.1 1397.3 1148.3 C1393.4 1140.6 1388.4 1134.2 1383.0 1127.6 C1377.6 1121.1 1371.8 1114.7 1364.9 1109.0 C1358.0 1103.3 1349.8 1097.6 1341.6 1093.5 C1333.4 1089.3 1324.4 1086.2 1315.7 1084.2 C1307.1 1082.1 1299.3 1080.9 1289.9 1081.1 C1280.4 1081.2 1269.1 1082.4 1258.8 1084.9 C1248.5 1087.4 1236.9 1095.9 1228.3 1096.1 Z" fill="none" stroke="#b8735a" stroke-width="2.1" opacity="0.7" filter="url(#bl2)"/>
</g></g>
<g filter="url(#bl1)"><g clip-path="url(#bc4)">
<rect x="1477.1" y="1065.9" width="398.6" height="271.6" fill="#e2341c"/>
<ellipse cx="1636.7" cy="1205.3" rx="165.6" ry="121.6" fill="#dd2616" opacity="1.0" filter="url(#bl10)" transform="rotate(0 1636.7 1205.3)"/>
<ellipse cx="1579.8" cy="1226.0" rx="67.3" ry="77.6" fill="#d92212" opacity="1.0" filter="url(#bl8)" transform="rotate(0 1579.8 1226.0)"/>
<ellipse cx="1667.7" cy="1262.2" rx="59.5" ry="62.1" fill="#dc2814" opacity="1.0" filter="url(#bl8)" transform="rotate(0 1667.7 1262.2)"/>
<path d="M1761.4 1089.1 C1750.8 1094.4 1748.0 1108.4 1741.2 1118.1 C1734.5 1127.7 1725.9 1138.6 1720.8 1147.0 C1715.7 1155.5 1711.2 1161.5 1710.7 1168.8 C1710.2 1176.0 1714.3 1183.3 1718.0 1190.5 C1721.6 1197.8 1727.6 1205.0 1732.4 1212.3 C1737.3 1219.5 1743.1 1226.8 1746.9 1234.0 C1750.8 1241.3 1752.4 1250.0 1755.7 1255.7 C1759.1 1261.5 1762.6 1267.5 1767.1 1268.7 C1771.7 1269.9 1778.1 1262.7 1783.2 1263.0 C1788.3 1263.3 1792.8 1266.6 1797.7 1270.2 C1802.5 1273.9 1807.3 1281.1 1812.2 1284.7 C1817.0 1288.4 1820.6 1293.2 1826.6 1292.0 C1832.7 1290.8 1841.1 1287.1 1848.4 1277.5 C1855.6 1267.8 1865.3 1247.3 1870.1 1234.0 C1875.0 1220.7 1878.6 1212.3 1877.4 1197.8 C1876.2 1183.3 1868.9 1161.5 1862.9 1147.0 C1856.8 1132.6 1850.8 1121.0 1841.1 1110.8 C1831.5 1100.6 1818.2 1089.6 1804.9 1086.0 C1791.6 1082.3 1772.0 1083.7 1761.4 1089.1 Z" fill="#ee9e68" opacity="1.0" filter="url(#bl8)"/>
<ellipse cx="1836.0" cy="1184.6" rx="27.2" ry="80.2" fill="#eebd80" opacity="1.0" filter="url(#bl10)" transform="rotate(-8 1836.0 1184.6)"/>
<ellipse cx="1789.4" cy="1290.7" rx="33.6" ry="15.5" fill="#ea6a3c" opacity="1.0" filter="url(#bl8)" transform="rotate(0 1789.4 1290.7)"/>
<path d="M1504.7 1207.9 C1508.6 1206.1 1521.1 1203.1 1528.0 1197.5 C1534.9 1191.9 1540.1 1181.1 1546.1 1174.2 C1552.1 1167.3 1556.9 1160.4 1564.2 1156.1 C1571.6 1151.8 1581.5 1149.4 1590.1 1148.3 C1598.7 1147.3 1608.2 1147.9 1616.0 1149.6 C1623.7 1151.4 1633.2 1157.2 1636.7 1158.7" fill="none" stroke="#f4603e" stroke-width="8.8" stroke-linecap="round" stroke-linejoin="round" opacity="1.0" filter="url(#bl3)"/>
<path d="M1688.4 1156.1 C1692.8 1154.7 1704.8 1149.1 1714.3 1147.8 C1723.8 1146.5 1735.0 1146.5 1745.4 1148.3 C1755.7 1150.2 1767.4 1153.5 1776.4 1158.7 C1785.5 1163.9 1794.6 1171.6 1799.7 1179.4 C1804.9 1187.2 1806.2 1201.0 1807.5 1205.3" fill="none" stroke="#f8a884" stroke-width="8.8" stroke-linecap="round" stroke-linejoin="round" opacity="1.0" filter="url(#bl3)"/>
<path d="M1628.9 1152.2 C1632.6 1149.0 1649.6 1160.0 1660.0 1160.0 C1670.3 1160.0 1687.4 1149.0 1691.0 1152.2 C1694.7 1155.5 1685.4 1171.6 1682.0 1179.4 C1678.5 1187.2 1676.2 1195.1 1670.3 1198.8 C1664.5 1202.5 1652.4 1204.6 1647.0 1201.4 C1641.6 1198.2 1641.0 1187.6 1638.0 1179.4 C1635.0 1171.2 1625.3 1155.5 1628.9 1152.2 Z" fill="#f0827c" opacity="1.0" filter="url(#bl3)"/>
<ellipse cx="1663.9" cy="1204.8" rx="16.0" ry="5.7" fill="#34160e" opacity="1.0" filter="url(#bl2)" transform="rotate(-15 1663.9 1204.8)"/>
<ellipse cx="1644.5" cy="1205.3" rx="7.8" ry="3.6" fill="#f4e0c0" opacity="1.0" filter="url(#bl2)" transform="rotate(0 1644.5 1205.3)"/>
<path d="M1621.2 1161.3 C1621.7 1166.9 1623.7 1182.0 1624.3 1194.9 C1624.8 1207.9 1624.3 1231.6 1624.3 1238.9" fill="none" stroke="#f8c4a6" stroke-width="2.8" stroke-linecap="round" stroke-linejoin="round" opacity="1.0" filter="url(#bl2)"/>
<path d="M1688.4 1171.6 C1689.5 1178.1 1693.2 1198.8 1694.9 1210.5 C1696.6 1222.1 1698.2 1236.3 1698.8 1241.5" fill="none" stroke="#f8c4a6" stroke-width="2.8" stroke-linecap="round" stroke-linejoin="round" opacity="1.0" filter="url(#bl2)"/>
<ellipse cx="1660.0" cy="1093.5" rx="4.7" ry="3.1" fill="#8a4a3a" opacity="1.0" filter="url(#bl2)" transform="rotate(0 1660.0 1093.5)"/>
<path d="M1660.0 1094.5 C1654.8 1094.1 1648.3 1088.3 1641.9 1086.2 C1635.4 1084.2 1628.9 1082.8 1621.2 1082.3 C1613.4 1081.9 1603.9 1082.2 1595.3 1083.6 C1586.7 1085.1 1578.0 1087.7 1569.4 1090.9 C1560.8 1094.1 1551.7 1098.4 1543.5 1103.1 C1535.3 1107.7 1527.3 1112.5 1520.2 1118.6 C1513.1 1124.6 1505.8 1131.7 1500.8 1139.3 C1495.9 1146.8 1492.8 1155.5 1490.5 1163.9 C1488.2 1172.3 1487.5 1180.7 1487.1 1189.8 C1486.7 1198.8 1485.8 1209.2 1487.9 1218.2 C1489.9 1227.3 1495.2 1235.9 1499.5 1244.1 C1503.8 1252.3 1509.0 1260.1 1513.8 1267.4 C1518.5 1274.7 1522.2 1281.6 1528.0 1288.1 C1533.8 1294.6 1540.9 1301.0 1548.7 1306.2 C1556.5 1311.4 1565.9 1315.8 1574.6 1319.2 C1583.2 1322.5 1591.8 1325.0 1600.5 1326.4 C1609.1 1327.8 1618.6 1328.4 1626.3 1327.4 C1634.1 1326.4 1641.0 1322.6 1647.0 1320.4 C1653.1 1318.3 1659.2 1315.4 1662.6 1314.5 C1665.9 1313.6 1664.0 1313.9 1667.2 1315.0 C1670.4 1316.1 1675.7 1319.3 1681.7 1321.0 C1687.8 1322.6 1696.2 1324.4 1703.5 1325.1 C1710.7 1325.8 1718.0 1325.8 1725.2 1325.1 C1732.4 1324.4 1739.7 1323.1 1746.9 1321.0 C1754.2 1318.8 1762.6 1314.6 1768.7 1312.2 C1774.7 1309.7 1778.3 1308.4 1783.2 1306.5 C1788.0 1304.5 1792.8 1302.5 1797.7 1300.5 C1802.5 1298.6 1807.8 1297.0 1812.2 1294.8 C1816.5 1292.7 1820.2 1291.0 1823.8 1287.6 C1827.4 1284.2 1830.7 1279.0 1833.9 1274.4 C1837.0 1269.8 1839.8 1265.2 1842.7 1259.9 C1845.6 1254.6 1849.3 1247.9 1851.2 1242.5 C1853.1 1237.2 1852.1 1232.9 1854.1 1228.1 C1856.0 1223.2 1860.9 1218.4 1862.9 1213.6 C1864.8 1208.7 1866.2 1203.6 1865.7 1199.1 C1865.3 1194.5 1862.2 1190.5 1860.0 1186.1 C1857.9 1181.8 1855.0 1178.2 1852.8 1172.9 C1850.6 1167.6 1849.2 1160.6 1846.8 1154.3 C1844.4 1148.0 1841.4 1141.4 1838.3 1135.4 C1835.2 1129.4 1831.8 1123.2 1828.2 1118.1 C1824.6 1113.0 1820.9 1108.7 1816.6 1104.9 C1812.2 1101.0 1807.6 1097.4 1802.1 1094.8 C1796.5 1092.1 1789.9 1090.8 1783.2 1089.1 C1776.4 1087.4 1767.9 1086.7 1761.4 1084.7 C1754.9 1082.6 1750.1 1078.1 1744.1 1076.7 C1738.1 1075.2 1733.2 1075.5 1725.2 1075.9 C1717.2 1076.2 1704.9 1076.6 1696.2 1078.7 C1687.5 1080.9 1679.0 1086.2 1672.9 1088.8 C1666.9 1091.5 1665.2 1094.9 1660.0 1094.5 Z" fill="none" stroke="#b8735a" stroke-width="2.1" opacity="0.7" filter="url(#bl2)"/>
</g></g>
<text x="52.8" y="1476.6" font-size="64" text-anchor="middle" font-weight="bold" fill="#000">(c)</text>
<line x1="220.8" y1="1550.2" x2="220.8" y2="2162.5" stroke="#000" stroke-width="5" stroke-linecap="butt"/>
<text x="188.5" y="2171.7" font-size="45" text-anchor="end" font-weight="normal" fill="#141414" stroke="#141414" stroke-width="1.0" stroke-linejoin="round" >0</text>
<line x1="194.0" y1="1957.3" x2="220.8" y2="1957.3" stroke="#000" stroke-width="5.6" stroke-linecap="butt"/>
<text x="188.5" y="1971.9" font-size="45" text-anchor="end" font-weight="normal" fill="#141414" stroke="#141414" stroke-width="1.0" stroke-linejoin="round" >10</text>
<line x1="194.0" y1="1757.5" x2="220.8" y2="1757.5" stroke="#000" stroke-width="5.6" stroke-linecap="butt"/>
<text x="188.5" y="1772.7" font-size="45" text-anchor="end" font-weight="normal" fill="#141414" stroke="#141414" stroke-width="1.0" stroke-linejoin="round" >20</text>
<line x1="194.0" y1="1553.0" x2="220.8" y2="1553.0" stroke="#000" stroke-width="5.6" stroke-linecap="butt"/>
<text x="188.5" y="1570.4" font-size="45" text-anchor="end" font-weight="normal" fill="#141414" stroke="#141414" stroke-width="1.0" stroke-linejoin="round" >30</text>
<text transform="translate(107.8 1842.0) rotate(-90)" font-size="55" text-anchor="middle" fill="#141414" stroke="#141414" stroke-width="1.0" stroke-linejoin="round" textLength="436" lengthAdjust="spacing">Infarct volume <tspan font-size="53">(%)</tspan></text>
<line x1="281.2" y1="1595.5" x2="281.2" y2="1674.5" stroke="#000" stroke-width="4.6" stroke-linecap="butt"/>
<line x1="270.2" y1="1595.5" x2="294.2" y2="1595.5" stroke="#000" stroke-width="5.1" stroke-linecap="round"/>
<line x1="348.8" y1="1968.3" x2="348.8" y2="1997.5" stroke="#000" stroke-width="4.6" stroke-linecap="butt"/>
<line x1="337.8" y1="1968.3" x2="361.8" y2="1968.3" stroke="#000" stroke-width="5.1" stroke-linecap="round"/>
<line x1="417.2" y1="1894.5" x2="417.2" y2="1926.5" stroke="#000" stroke-width="4.6" stroke-linecap="butt"/>
<line x1="406.2" y1="1894.5" x2="430.2" y2="1894.5" stroke="#000" stroke-width="5.1" stroke-linecap="round"/>
<line x1="483.8" y1="1562.3" x2="483.8" y2="1611.8" stroke="#000" stroke-width="4.6" stroke-linecap="butt"/>
<line x1="472.8" y1="1562.3" x2="496.8" y2="1562.3" stroke="#000" stroke-width="5.1" stroke-linecap="round"/>
<line x1="569.5" y1="1659.0" x2="569.5" y2="1708.0" stroke="#000" stroke-width="4.6" stroke-linecap="butt"/>
<line x1="558.5" y1="1659.0" x2="582.5" y2="1659.0" stroke="#000" stroke-width="5.1" stroke-linecap="round"/>
<line x1="637.6" y1="1841.5" x2="637.6" y2="1871.5" stroke="#000" stroke-width="4.6" stroke-linecap="butt"/>
<line x1="626.6" y1="1841.5" x2="650.6" y2="1841.5" stroke="#000" stroke-width="5.1" stroke-linecap="round"/>
<line x1="703.8" y1="1767.8" x2="703.8" y2="1789.5" stroke="#000" stroke-width="4.6" stroke-linecap="butt"/>
<line x1="692.8" y1="1767.8" x2="716.8" y2="1767.8" stroke="#000" stroke-width="5.1" stroke-linecap="round"/>
<line x1="772.0" y1="1602.5" x2="772.0" y2="1628.5" stroke="#000" stroke-width="4.6" stroke-linecap="butt"/>
<line x1="761.0" y1="1602.5" x2="785.0" y2="1602.5" stroke="#000" stroke-width="5.1" stroke-linecap="round"/>
<line x1="858.1" y1="1633.0" x2="858.1" y2="1689.0" stroke="#000" stroke-width="4.6" stroke-linecap="butt"/>
<line x1="847.1" y1="1633.0" x2="871.1" y2="1633.0" stroke="#000" stroke-width="5.1" stroke-linecap="round"/>
<line x1="925.0" y1="1912.5" x2="925.0" y2="1935.5" stroke="#000" stroke-width="4.6" stroke-linecap="butt"/>
<line x1="914.0" y1="1912.5" x2="938.0" y2="1912.5" stroke="#000" stroke-width="5.1" stroke-linecap="round"/>
<line x1="993.2" y1="1834.8" x2="993.2" y2="1859.5" stroke="#000" stroke-width="4.6" stroke-linecap="butt"/>
<line x1="982.2" y1="1834.8" x2="1006.2" y2="1834.8" stroke="#000" stroke-width="5.1" stroke-linecap="round"/>
<line x1="1061.0" y1="1600.0" x2="1061.0" y2="1619.0" stroke="#000" stroke-width="4.6" stroke-linecap="butt"/>
<line x1="1050.0" y1="1600.0" x2="1074.0" y2="1600.0" stroke="#000" stroke-width="5.1" stroke-linecap="round"/>
<rect x="253.8" y="1674.8" width="54.9" height="485.2" fill="#000000" stroke="#000" stroke-width="4.6" stroke-linejoin="round"/>
<rect x="319.8" y="1997.8" width="57.9" height="162.2" fill="#d2d2d2" stroke="#000" stroke-width="4.6" stroke-linejoin="round"/>
<rect x="389.8" y="1926.8" width="54.9" height="233.2" fill="#a0a0a3" stroke="#000" stroke-width="4.6" stroke-linejoin="round"/>
<rect x="456.8" y="1612.1" width="53.9" height="547.9" fill="#606060" stroke="#000" stroke-width="4.6" stroke-linejoin="round"/>
<rect x="540.3" y="1708.3" width="58.4" height="451.7" fill="#000000" stroke="#000" stroke-width="4.6" stroke-linejoin="round"/>
<rect x="610.1" y="1871.8" width="55.1" height="288.2" fill="#d2d2d2" stroke="#000" stroke-width="4.6" stroke-linejoin="round"/>
<rect x="676.3" y="1789.8" width="54.9" height="370.2" fill="#a0a0a3" stroke="#000" stroke-width="4.6" stroke-linejoin="round"/>
<rect x="742.8" y="1628.8" width="58.4" height="531.2" fill="#606060" stroke="#000" stroke-width="4.6" stroke-linejoin="round"/>
<rect x="830.6" y="1689.3" width="55.1" height="470.7" fill="#000000" stroke="#000" stroke-width="4.6" stroke-linejoin="round"/>
<rect x="897.3" y="1935.8" width="55.4" height="224.2" fill="#d2d2d2" stroke="#000" stroke-width="4.6" stroke-linejoin="round"/>
<rect x="964.8" y="1859.8" width="56.9" height="300.2" fill="#a0a0a3" stroke="#000" stroke-width="4.6" stroke-linejoin="round"/>
<rect x="1033.3" y="1619.3" width="55.4" height="540.7" fill="#606060" stroke="#000" stroke-width="4.6" stroke-linejoin="round"/>
<line x1="194.0" y1="2160.0" x2="1130.0" y2="2160.0" stroke="#000" stroke-width="5.8" stroke-linecap="butt"/>
<text x="347.2" y="1938.0" font-size="50" text-anchor="middle" font-weight="normal" fill="#141414" stroke="#141414" stroke-width="0.8" stroke-linejoin="round" letter-spacing="3.8">**</text>
<text x="415.6" y="1868.5" font-size="50" text-anchor="middle" font-weight="normal" fill="#141414" stroke="#141414" stroke-width="0.8" stroke-linejoin="round" letter-spacing="3.8">**</text>
<text x="635.5" y="1814.4" font-size="50" text-anchor="middle" font-weight="normal" fill="#141414" stroke="#141414" stroke-width="0.8" stroke-linejoin="round" letter-spacing="3.8">**</text>
<text x="921.5" y="1876.9" font-size="50" text-anchor="middle" font-weight="normal" fill="#141414" stroke="#141414" stroke-width="0.8" stroke-linejoin="round" letter-spacing="3.8">**</text>
<text x="990.5" y="1806.0" font-size="50" text-anchor="middle" font-weight="normal" fill="#141414" stroke="#141414" stroke-width="0.8" stroke-linejoin="round" letter-spacing="3.8">**</text>
<text x="388.0" y="2234.8" font-size="54.5" text-anchor="middle" font-weight="normal" fill="#141414" stroke="#141414" stroke-width="1.0" stroke-linejoin="round" >Cortical</text>
<text x="680.0" y="2231.8" font-size="54.5" text-anchor="middle" font-weight="normal" fill="#141414" stroke="#141414" stroke-width="1.0" stroke-linejoin="round" >Subcortical</text>
<text x="952.5" y="2234.8" font-size="54.5" text-anchor="middle" font-weight="normal" fill="#141414" stroke="#141414" stroke-width="1.0" stroke-linejoin="round" >Total</text>
<text x="1178.1" y="1478.9" font-size="64" text-anchor="middle" font-weight="bold" fill="#000">(d)</text>
<line x1="1359.3" y1="1548.5" x2="1359.3" y2="2162.3" stroke="#000" stroke-width="5" stroke-linecap="butt"/>
<line x1="1335.0" y1="2038.8" x2="1359.3" y2="2038.8" stroke="#000" stroke-width="5.6" stroke-linecap="butt"/>
<line x1="1335.0" y1="1916.6" x2="1359.3" y2="1916.6" stroke="#000" stroke-width="5.6" stroke-linecap="butt"/>
<line x1="1335.0" y1="1795.0" x2="1359.3" y2="1795.0" stroke="#000" stroke-width="5.6" stroke-linecap="butt"/>
<line x1="1335.0" y1="1673.3" x2="1359.3" y2="1673.3" stroke="#000" stroke-width="5.6" stroke-linecap="butt"/>
<line x1="1335.0" y1="1551.3" x2="1359.3" y2="1551.3" stroke="#000" stroke-width="5.6" stroke-linecap="butt"/>
<text x="1332.5" y="1565.9" font-size="45" text-anchor="end" font-weight="normal" fill="#141414" stroke="#141414" stroke-width="1.0" stroke-linejoin="round" >10</text>
<text x="1329.0" y="1689.9" font-size="45" text-anchor="end" font-weight="normal" fill="#141414" stroke="#141414" stroke-width="1.0" stroke-linejoin="round" >8</text>
<text x="1328.5" y="1811.1" font-size="45" text-anchor="end" font-weight="normal" fill="#141414" stroke="#141414" stroke-width="1.0" stroke-linejoin="round" >6</text>
<text x="1328.0" y="1933.1" font-size="45" text-anchor="end" font-weight="normal" fill="#141414" stroke="#141414" stroke-width="1.0" stroke-linejoin="round" >4</text>
<text x="1328.0" y="2054.9" font-size="45" text-anchor="end" font-weight="normal" fill="#141414" stroke="#141414" stroke-width="1.0" stroke-linejoin="round" >2</text>
<text x="1328.0" y="2176.1" font-size="45" text-anchor="end" font-weight="normal" fill="#141414" stroke="#141414" stroke-width="1.0" stroke-linejoin="round" >0</text>
<text transform="translate(1268.3 1831.5) rotate(-90)" font-size="55" text-anchor="middle" fill="#141414" stroke="#141414" stroke-width="1.0" stroke-linejoin="round" textLength="458" lengthAdjust="spacing">Edema volume <tspan font-size="52">(%)</tspan></text>
<line x1="1452.3" y1="1616.5" x2="1452.3" y2="1648.0" stroke="#000" stroke-width="4.8" stroke-linecap="butt"/>
<line x1="1432.6" y1="1616.5" x2="1473.6" y2="1616.5" stroke="#000" stroke-width="5.3" stroke-linecap="round"/>
<line x1="1452.3" y1="2159.8" x2="1452.3" y2="2183.5" stroke="#000" stroke-width="5.5" stroke-linecap="butt"/>
<line x1="1592.0" y1="1776.5" x2="1592.0" y2="1798.3" stroke="#000" stroke-width="4.8" stroke-linecap="butt"/>
<line x1="1572.3" y1="1776.5" x2="1613.3" y2="1776.5" stroke="#000" stroke-width="5.3" stroke-linecap="round"/>
<line x1="1592.0" y1="2159.8" x2="1592.0" y2="2183.5" stroke="#000" stroke-width="5.5" stroke-linecap="butt"/>
<line x1="1731.0" y1="1767.5" x2="1731.0" y2="1789.0" stroke="#000" stroke-width="4.8" stroke-linecap="butt"/>
<line x1="1711.0" y1="1767.5" x2="1752.0" y2="1767.5" stroke="#000" stroke-width="5.3" stroke-linecap="round"/>
<line x1="1731.0" y1="2159.8" x2="1731.0" y2="2183.5" stroke="#000" stroke-width="5.5" stroke-linecap="butt"/>
<line x1="1871.0" y1="1664.8" x2="1871.0" y2="1703.5" stroke="#000" stroke-width="4.8" stroke-linecap="butt"/>
<line x1="1850.8" y1="1664.8" x2="1891.8" y2="1664.8" stroke="#000" stroke-width="5.3" stroke-linecap="round"/>
<line x1="1871.0" y1="2159.8" x2="1871.0" y2="2183.5" stroke="#000" stroke-width="5.5" stroke-linecap="butt"/>
<rect x="1409.8" y="1648.3" width="85.7" height="511.5" fill="#000000" stroke="#000" stroke-width="4.6" stroke-linejoin="round"/>
<rect x="1549.1" y="1798.6" width="87.4" height="361.2" fill="#d2d2d2" stroke="#000" stroke-width="4.6" stroke-linejoin="round"/>
<rect x="1688.1" y="1789.3" width="88.4" height="370.5" fill="#a0a0a3" stroke="#000" stroke-width="4.6" stroke-linejoin="round"/>
<rect x="1826.6" y="1703.8" width="89.6" height="456.0" fill="#606060" stroke="#000" stroke-width="4.6" stroke-linejoin="round"/>
<line x1="1335.0" y1="2159.8" x2="1966.0" y2="2159.8" stroke="#000" stroke-width="5.8" stroke-linecap="butt"/>
<text x="1591.0" y="1744.9" font-size="50" text-anchor="middle" font-weight="normal" fill="#141414" stroke="#141414" stroke-width="0.8" stroke-linejoin="round" letter-spacing="3.8">**</text>
<text x="1731.0" y="1728.6" font-size="50" text-anchor="middle" font-weight="normal" fill="#141414" stroke="#141414" stroke-width="0.8" stroke-linejoin="round" letter-spacing="3.8">**</text>
<text x="1448.5" y="2238.2" font-size="54.5" text-anchor="middle" font-weight="normal" fill="#141414" stroke="#141414" stroke-width="1.0" stroke-linejoin="round" >Vh</text>
<text x="1592.8" y="2238.2" font-size="54.5" text-anchor="middle" font-weight="normal" fill="#141414" stroke="#141414" stroke-width="1.0" stroke-linejoin="round" >1.5</text>
<text x="1727.3" y="2238.2" font-size="54.5" text-anchor="middle" font-weight="normal" fill="#141414" stroke="#141414" stroke-width="1.0" stroke-linejoin="round" >2.5</text>
<text x="1869.0" y="2238.2" font-size="54.5" text-anchor="middle" font-weight="normal" fill="#141414" stroke="#141414" stroke-width="1.0" stroke-linejoin="round" >4.0</text>
<line x1="1537.5" y1="2261.0" x2="1931.0" y2="2261.0" stroke="#000" stroke-width="3.6" stroke-linecap="butt"/>
<text x="1735.5" y="2318.0" font-size="54.5" text-anchor="middle" font-weight="normal" fill="#141414" stroke="#141414" stroke-width="1.0" stroke-linejoin="round" >+ QN23 (mg/kg)</text>
<rect x="1912.1" y="1432.2" width="91.7" height="24.0" rx="2" fill="#000000" stroke="#000" stroke-width="5.0" stroke-linejoin="round"/>
<text x="2015.5" y="1456.8" font-size="43.5" text-anchor="start" font-weight="normal" fill="#141414" stroke="#141414" stroke-width="0.8" stroke-linejoin="round" >Vh</text>
<rect x="1912.1" y="1476.8" width="91.7" height="26.5" rx="2" fill="#d2d2d2" stroke="#000" stroke-width="5.0" stroke-linejoin="round"/>
<text x="2015.5" y="1507.6" font-size="43.5" text-anchor="start" font-weight="normal" fill="#141414" stroke="#141414" stroke-width="0.8" stroke-linejoin="round" >QN23 <tspan dx="4">1.5</tspan> <tspan dx="-4">mg/kg</tspan></text>
<rect x="1912.1" y="1527.5" width="91.7" height="25.8" rx="2" fill="#a0a0a3" stroke="#000" stroke-width="5.0" stroke-linejoin="round"/>
<text x="2015.5" y="1558.0" font-size="43.5" text-anchor="start" font-weight="normal" fill="#141414" stroke="#141414" stroke-width="0.8" stroke-linejoin="round" >QN23 <tspan dx="4">2.5</tspan> <tspan dx="-4">mg/kg</tspan></text>
<rect x="1912.1" y="1577.5" width="91.7" height="25.4" rx="2" fill="#606060" stroke="#000" stroke-width="5.0" stroke-linejoin="round"/>
<text x="2015.5" y="1607.5" font-size="43.5" text-anchor="start" font-weight="normal" fill="#141414" stroke="#141414" stroke-width="0.8" stroke-linejoin="round" >QN23 <tspan dx="4">4.0</tspan> <tspan dx="-4">mg/kg</tspan></text>
</svg>
</body>
</html>
